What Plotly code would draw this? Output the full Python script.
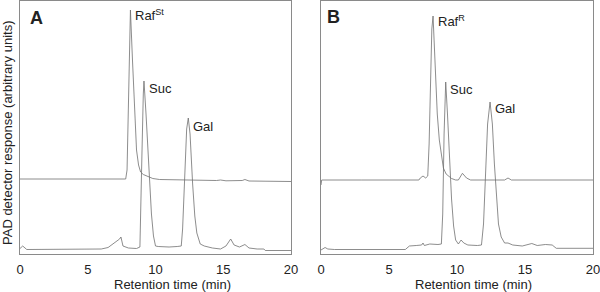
import plotly.graph_objects as go

# ---------------- data (retention time in min, detector response in arbitrary units) ----------------
# Panel A, upper trace: raffinose standard
a_std_t = [0.0, 3.5, 7.0, 7.7, 7.8, 7.9, 8.0, 8.08, 8.15, 8.3, 8.45, 8.6, 8.75, 8.9, 9.1, 9.3,
           9.5, 9.8, 10.3, 12.0, 14.5, 14.8, 15.2, 16.4, 16.6, 16.9, 20.0]
a_std_v = [75, 74.7, 74.5, 74.5, 75, 84, 144, 204, 244, 194, 139, 104, 89, 82, 79.5, 78.5,
           77, 75.5, 74.5, 74, 73.5, 74, 73.2, 73.5, 74.5, 73, 72.5]

# Panel A, lower trace: sample
a_smp_t = [0.0, 0.2, 0.5, 2.0, 3.5, 5.0, 6.0, 6.5, 7.0, 7.35, 7.45, 7.6, 8.0, 8.6, 8.85, 8.9, 9.0,
           9.1, 9.15, 9.3, 9.45, 9.55, 9.7, 9.85, 10.0, 10.2, 11.0, 11.6, 11.9, 12.0, 12.13, 12.3,
           12.42, 12.55, 12.74, 12.9, 13.05, 13.3, 13.6, 14.2, 14.8, 15.2, 15.55, 15.8, 16.2,
           16.6, 16.9, 17.5, 18.0, 18.1, 20.0]
a_smp_v = [5.5, 8, 4.5, 4.5, 5, 4.5, 5, 6.5, 11, 15, 17, 8, 6, 5.5, 7, 30, 100,
           160, 173, 140, 100, 75, 40, 18, 8, 7.5, 7, 7.5, 8, 25, 70, 125,
           136, 120, 70, 38, 21, 10, 8, 6, 5, 8, 15, 9, 7,
           9.5, 6, 5, 5, 3.5, 3.5]

# Panel B, upper trace: raffinose (R)
b_std_t = [0.0, 0.05, 3.0, 7.2, 7.3, 7.5, 7.7, 7.85, 7.95, 8.05, 8.15, 8.24, 8.4, 8.55, 8.7,
           8.85, 9.0, 9.2, 9.35, 9.6, 9.9, 10.1, 10.4, 10.7, 11.0, 12.0, 13.5, 13.75, 14.0, 20.0]
b_std_v = [69, 74, 74, 74, 76, 78, 76, 78, 110, 170, 225, 238, 190, 140, 114,
           97, 86, 80, 78, 75.5, 74, 74, 80.7, 76, 74, 74, 74, 76, 74, 74]

# Panel B, lower trace: sample
b_smp_t = [0.0, 0.3, 0.5, 1.0, 6.2, 6.35, 6.5, 7.0, 7.4, 7.5, 7.6, 8.0, 8.3, 8.6, 8.85, 8.95,
           9.05, 9.17, 9.3, 9.45, 9.6, 9.75, 9.9, 10.1, 10.3, 10.5, 10.8, 11.5, 11.8, 11.95,
           12.1, 12.25, 12.43, 12.6, 12.75, 12.9, 13.05, 13.25, 13.5, 13.75, 14.1, 14.8, 15.5,
           15.9, 16.5, 17.0, 17.3, 20.0]
b_smp_v = [4, 6.5, 5, 4.5, 4.5, 6, 8, 8.5, 9, 11, 8.5, 10, 9.5, 9.5, 10, 40,
           120, 172, 140, 95, 55, 28, 14, 10, 14, 11, 9, 8.5, 9, 30,
           80, 130, 152, 130, 90, 55, 30, 17, 11, 11, 9, 8, 10.5,
           8.5, 9.5, 9, 5.7, 5.7]

x_ticks = [0, 5, 10, 15, 20]
x_title = "Retention time (min)"
y_title = "PAD detector response (arbitrary units)"

# ---------------- figure ----------------
W, H = 600, 292
ML, MR, MT, MB = 20, 7, 1, 38
PW, PH = W - ML - MR, H - MT - MB
FONT = "Liberation Sans, Arial"

line_style = dict(color="#707070", width=0.8)
fig = go.Figure()
fig.add_trace(go.Scatter(x=a_std_t, y=a_std_v, mode="lines", line=line_style, xaxis="x", yaxis="y"))
fig.add_trace(go.Scatter(x=a_smp_t, y=a_smp_v, mode="lines", line=line_style, xaxis="x", yaxis="y"))
fig.add_trace(go.Scatter(x=b_std_t, y=b_std_v, mode="lines", line=line_style, xaxis="x2", yaxis="y2"))
fig.add_trace(go.Scatter(x=b_smp_t, y=b_smp_v, mode="lines", line=line_style, xaxis="x2", yaxis="y2"))

axcol = "#8a8a8a"
xcommon = dict(range=[0, 20], tickvals=x_ticks, showline=True, linecolor=axcol, linewidth=1,
               mirror=True, showgrid=False, zeroline=False, ticks="",
               tickfont=dict(family=FONT, size=13, color="#222"),
               ticklabelstandoff=3, ticklabeloverflow="allow")
ycommon = dict(range=[0, 253], showline=True, linecolor=axcol, linewidth=1, mirror=True,
               showgrid=False, zeroline=False, showticklabels=False, ticks="")

fig.update_layout(
    width=W, height=H,
    margin=dict(l=ML, r=MR, t=MT, b=MB),
    paper_bgcolor="white", plot_bgcolor="white",
    showlegend=False,
    font=dict(family=FONT, color="#222"),
    xaxis=dict(domain=[0, 271 / PW], anchor="y", **xcommon),
    yaxis=dict(domain=[0, 1], anchor="x", **ycommon),
    xaxis2=dict(domain=[301 / PW, 1], anchor="y2", **xcommon),
    yaxis2=dict(domain=[0, 1], anchor="x2", **ycommon),
)

def px(xp):
    return (xp - ML) / PW
def py(yp):
    return (H - MB - yp) / PH

def ann(text, xp, yp, size=13, bold=False, xanchor="left", yanchor="middle", textangle=0):
    fig.add_annotation(text=("<b>%s</b>" % text) if bold else text, x=px(xp), y=py(yp),
                       xref="paper", yref="paper",
                       showarrow=False, xanchor=xanchor, yanchor=yanchor, textangle=textangle,
                       font=dict(family=FONT, size=size, color="#222"))

# panel letters
ann("A", 36, 18, size=18, bold=True, xanchor="center")
ann("B", 333.5, 17, size=18, bold=True, xanchor="center")

# peak labels
ann("Raf<sup>St</sup>", 133, 15)
ann("Suc", 147, 88)
ann("Gal", 191, 126.5)
ann("Raf<sup>R</sup>", 436, 21)
ann("Suc", 448, 89)
ann("Gal", 493, 108.5)

# axis titles
ann(x_title, 172.5, 284, xanchor="center")
ann(x_title, 473, 284, xanchor="center")
ann(y_title, 7, 133, xanchor="center", textangle=-90)

fig.write_html("out.html", config={"displayModeBar": False},
               post_script="document.body.style.margin='0';document.body.style.overflow='hidden';")
